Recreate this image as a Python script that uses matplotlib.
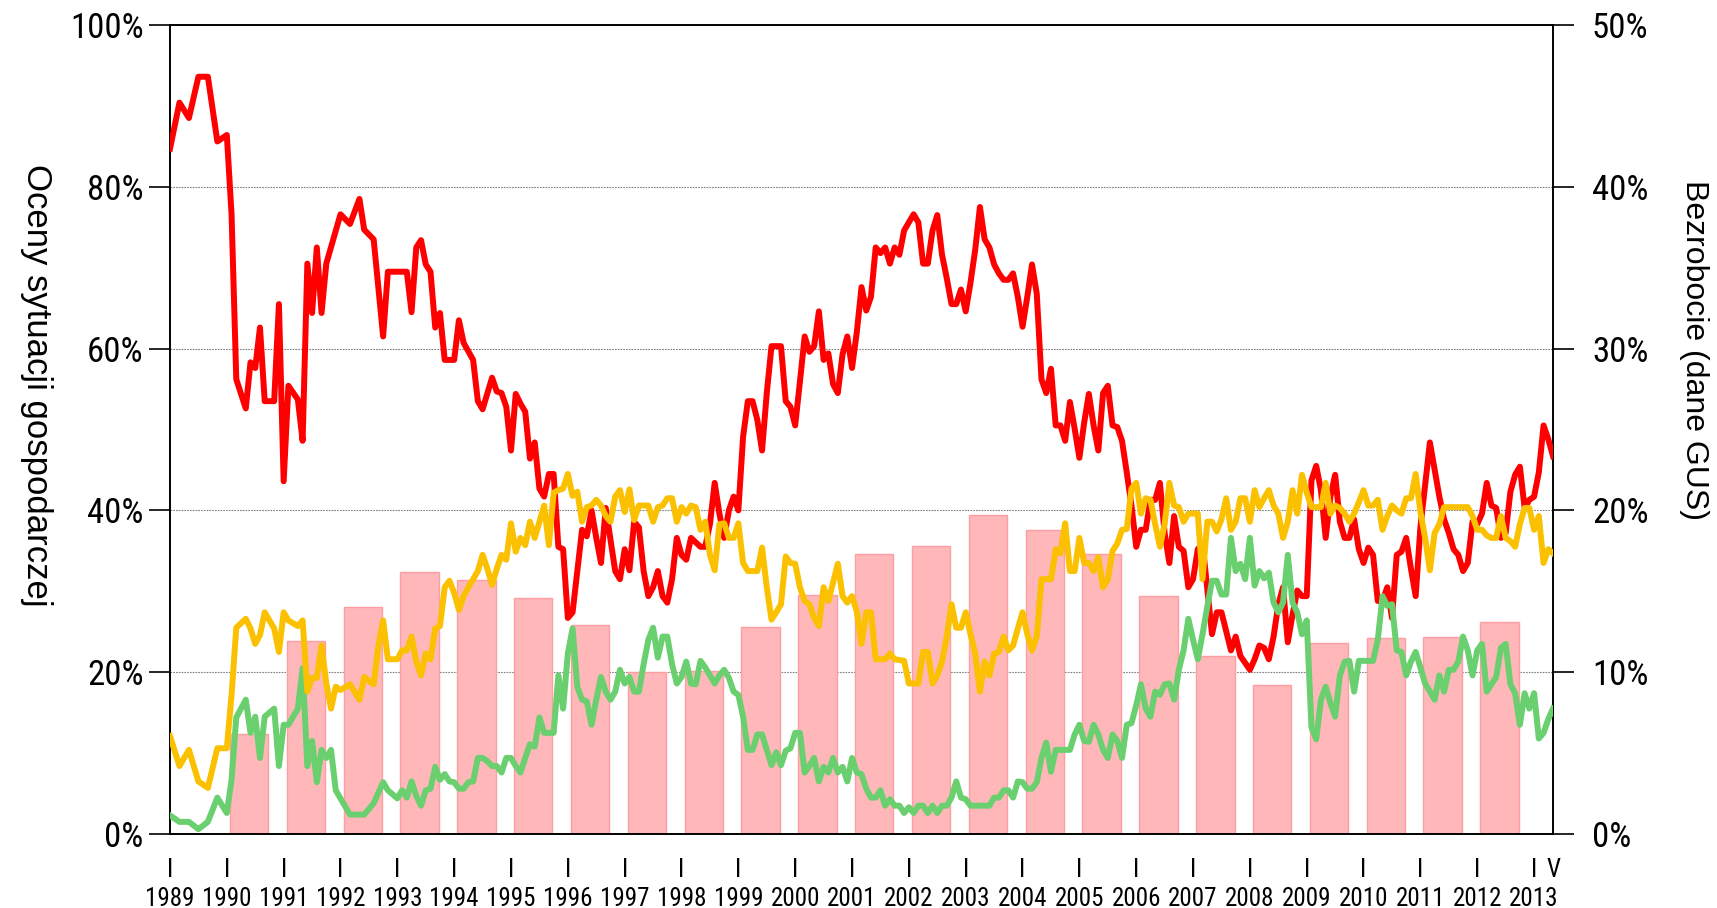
import numpy as np
import matplotlib.pyplot as plt
import matplotlib.font_manager as fm

# miesiące liczone od I 1989 (0) do V 2013 (292)
red_m = [0, 2, 4, 6, 8, 10, 12, 13, 14, 16, 17, 18, 19, 20, 22, 23, 24, 25, 27, 28,
         29, 30, 31, 32, 33, 36, 38, 40, 41, 43, 45, 46, 50, 51, 52, 53, 54, 55, 56, 57,
         58, 60, 61, 62, 64, 65, 66, 68, 69, 70, 71, 72, 73, 74, 75, 76, 77, 78, 79, 80,
         81, 82, 83, 84, 85, 87, 88, 89, 90, 91, 92, 94, 95, 96, 97, 98, 99, 100, 101, 102,
         103, 104, 105, 106, 107, 108, 109, 110, 112, 113, 114, 115, 116, 117, 118, 119, 120, 121, 122, 123,
         124, 125, 126, 127, 129, 130, 131, 132, 133, 134, 135, 136, 137, 138, 139, 140, 141, 142, 143, 144,
         145, 146, 147, 148, 149, 150, 151, 152, 153, 154, 155, 156, 157, 158, 159, 160, 161, 162, 163, 164,
         165, 166, 167, 168, 169, 170, 171, 172, 173, 174, 175, 176, 177, 178, 179, 180, 181, 182, 183, 184,
         185, 186, 187, 188, 189, 190, 191, 192, 193, 194, 195, 196, 197, 198, 199, 200, 201, 202, 203, 204,
         205, 206, 207, 208, 209, 210, 211, 212, 213, 214, 215, 216, 217, 218, 220, 221, 222, 224, 225, 226,
         228, 229, 230, 231, 232, 233, 234, 235, 236, 237, 238, 239, 240, 241, 242, 243, 244, 245, 246, 247,
         248, 249, 250, 251, 252, 253, 254, 255, 256, 257, 258, 259, 260, 261, 262, 263, 264, 266, 268, 269,
         270, 271, 272, 273, 274, 275, 276, 277, 278, 279, 280, 281, 282, 283, 284, 285, 286, 287, 288, 289,
         290, 291, 292]
red_v = [84.7, 90.4, 88.5, 93.6, 93.6, 85.6, 86.4, 76.6, 56.2, 52.6, 58.3, 57.6, 62.6, 53.5, 53.5, 65.5, 43.6, 55.4, 53.7, 48.6,
         70.5, 64.4, 72.5, 64.4, 70.5, 76.6, 75.4, 78.5, 74.7, 73.5, 61.5, 69.5, 69.5, 64.5, 72.5, 73.4, 70.4, 69.5, 62.6, 64.4,
         58.6, 58.6, 63.5, 60.7, 58.6, 53.5, 52.5, 56.4, 54.7, 54.5, 52.8, 47.4, 54.4, 53.2, 52.2, 46.4, 48.4, 42.7, 41.7, 44.5,
         44.5, 35.5, 35.2, 26.7, 27.4, 37.6, 36.8, 40.0, 36.6, 33.5, 40.3, 32.5, 31.5, 35.2, 32.6, 38.6, 37.9, 32.5, 29.4, 30.5,
         32.5, 29.4, 28.6, 31.5, 36.6, 34.5, 33.9, 36.6, 35.5, 35.5, 38.3, 43.4, 39.6, 36.6, 40.0, 41.7, 40.0, 49.1, 53.5, 53.5,
         51.2, 47.4, 54.5, 60.3, 60.3, 53.5, 52.8, 50.5, 55.9, 61.5, 59.6, 60.3, 64.6, 58.6, 59.4, 55.6, 54.5, 59.3, 61.5, 57.6,
         62.0, 67.6, 64.7, 66.4, 72.5, 71.8, 72.5, 70.5, 72.5, 71.6, 74.6, 75.6, 76.6, 75.6, 70.5, 70.5, 74.6, 76.5, 71.6, 68.7,
         65.5, 65.5, 67.3, 64.6, 68.1, 72.2, 77.5, 73.5, 72.5, 70.4, 69.3, 68.5, 68.5, 69.3, 66.4, 62.7, 66.4, 70.4, 66.8, 56.2,
         54.5, 57.5, 50.5, 50.5, 48.6, 53.4, 50.1, 46.5, 50.8, 54.4, 50.5, 47.4, 54.5, 55.4, 50.5, 50.3, 48.6, 44.7, 40.6, 35.5,
         37.6, 37.6, 41.3, 41.3, 43.4, 37.2, 33.5, 39.3, 35.5, 35.0, 30.5, 31.5, 35.2, 35.9, 24.7, 27.4, 27.4, 22.7, 24.4, 22.0,
         20.3, 21.6, 23.3, 23.0, 21.6, 24.4, 28.4, 30.5, 23.7, 27.1, 30.1, 29.4, 29.4, 43.7, 45.5, 42.5, 36.6, 41.7, 44.4, 38.6,
         36.6, 36.6, 38.9, 35.2, 33.5, 35.4, 34.5, 28.8, 28.8, 30.5, 26.7, 34.5, 34.9, 36.6, 32.8, 29.4, 37.9, 48.4, 41.7, 38.9,
         37.2, 35.2, 34.5, 32.5, 33.5, 38.6, 38.3, 39.6, 43.4, 40.6, 40.3, 36.6, 37.2, 42.3, 44.4, 45.4, 40.3, 41.3, 41.7, 44.7,
         50.5, 48.8, 46.7]

yel_m = [0, 2, 4, 6, 8, 10, 12, 13, 14, 16, 17, 18, 19, 20, 22, 23, 24, 25, 27, 28,
         29, 30, 31, 32, 33, 34, 35, 36, 38, 40, 41, 43, 44, 45, 46, 48, 49, 50, 51, 52,
         53, 54, 55, 56, 57, 58, 59, 60, 61, 62, 63, 64, 65, 66, 67, 68, 69, 70, 71, 72,
         73, 74, 75, 76, 77, 78, 79, 80, 81, 82, 83, 84, 85, 86, 87, 88, 89, 90, 91, 92,
         93, 94, 95, 96, 97, 98, 99, 101, 102, 103, 104, 105, 106, 107, 108, 109, 110, 111, 112, 113,
         114, 115, 116, 117, 118, 119, 120, 121, 122, 124, 125, 126, 127, 128, 129, 130, 131, 132, 133, 134,
         135, 136, 137, 138, 139, 140, 141, 142, 143, 144, 145, 146, 147, 148, 149, 151, 152, 153, 155, 156,
         158, 159, 160, 161, 162, 163, 164, 165, 166, 167, 168, 169, 170, 171, 172, 173, 174, 175, 176, 177,
         178, 179, 180, 181, 182, 183, 184, 186, 187, 188, 189, 190, 191, 192, 193, 194, 195, 196, 197, 198,
         199, 200, 201, 202, 203, 204, 205, 206, 207, 208, 209, 210, 211, 212, 213, 214, 215, 217, 218, 219,
         220, 221, 222, 223, 224, 225, 226, 227, 228, 229, 230, 231, 232, 233, 234, 235, 236, 237, 238, 239,
         240, 241, 242, 243, 244, 245, 246, 247, 248, 249, 250, 251, 252, 253, 254, 255, 256, 257, 258, 259,
         260, 261, 262, 263, 264, 265, 266, 267, 268, 269, 274, 275, 276, 277, 278, 279, 280, 281, 282, 283,
         284, 285, 286, 287, 288, 289, 290, 291, 292]
yel_v = [12.1, 8.4, 10.4, 6.5, 5.7, 10.6, 10.6, 17.2, 25.5, 26.6, 25.4, 23.5, 24.6, 27.4, 25.4, 22.5, 27.4, 26.4, 25.7, 26.4,
         17.6, 19.3, 19.3, 23.3, 18.6, 15.5, 18.2, 17.8, 18.5, 16.6, 19.4, 18.5, 23.3, 26.4, 21.6, 21.6, 22.7, 22.7, 24.4, 21.3,
         19.6, 22.3, 21.6, 25.4, 25.7, 30.5, 31.3, 29.8, 27.7, 29.4, 30.5, 31.5, 32.5, 34.5, 32.8, 30.8, 32.8, 34.5, 33.9, 38.4,
         34.9, 36.6, 35.7, 38.6, 36.6, 38.6, 40.6, 35.7, 42.2, 42.5, 42.7, 44.5, 41.8, 42.3, 38.6, 40.4, 40.6, 41.3, 40.6, 39.3,
         38.6, 41.7, 42.5, 39.8, 42.6, 38.8, 40.6, 40.6, 38.6, 40.4, 40.6, 41.5, 41.5, 38.6, 40.4, 39.6, 40.6, 40.4, 37.6, 38.6,
         34.5, 32.6, 38.3, 38.4, 36.6, 36.6, 38.4, 33.5, 32.5, 32.5, 35.4, 30.5, 26.5, 27.4, 28.4, 34.3, 33.5, 33.4, 30.5, 28.8,
         28.4, 26.7, 25.7, 30.5, 28.8, 31.1, 33.4, 29.4, 28.6, 29.4, 27.5, 23.5, 27.4, 27.4, 21.6, 21.6, 22.3, 21.6, 21.4, 18.6,
         18.6, 22.5, 22.5, 18.6, 19.6, 21.3, 24.4, 28.4, 25.5, 25.5, 27.4, 24.7, 22.3, 17.6, 21.3, 19.6, 22.3, 22.5, 24.4, 22.7,
         23.3, 25.4, 27.4, 24.7, 22.7, 24.4, 31.5, 31.5, 35.2, 34.7, 38.4, 32.5, 32.5, 36.6, 33.5, 33.5, 32.5, 34.2, 30.5, 31.5,
         35.0, 35.9, 37.6, 37.7, 42.7, 43.4, 39.6, 41.5, 41.3, 38.3, 35.5, 38.3, 43.4, 40.6, 40.4, 38.6, 39.6, 39.6, 31.5, 38.6,
         38.6, 37.4, 38.9, 41.5, 37.6, 38.6, 41.5, 41.5, 38.6, 42.5, 40.4, 41.5, 42.5, 40.6, 39.6, 36.6, 38.6, 42.5, 39.6, 44.4,
         42.2, 40.4, 40.4, 40.4, 43.4, 39.6, 40.6, 40.3, 39.6, 38.6, 39.6, 41.0, 42.5, 40.6, 40.6, 41.3, 37.6, 39.3, 40.6, 40.0,
         39.6, 41.5, 41.5, 44.5, 39.8, 36.6, 32.6, 37.2, 38.3, 40.4, 40.4, 39.3, 37.6, 37.6, 36.9, 36.6, 36.6, 39.3, 36.6, 36.2,
         35.5, 38.3, 40.3, 40.3, 37.6, 39.3, 33.5, 35.2, 34.7]

grn_m = [0, 2, 4, 6, 8, 10, 12, 13, 14, 16, 17, 18, 19, 20, 22, 23, 24, 25, 27, 28,
         29, 30, 31, 32, 33, 34, 35, 38, 41, 43, 45, 46, 48, 49, 50, 51, 52, 53, 54, 55,
         56, 57, 58, 59, 60, 61, 62, 63, 64, 65, 66, 67, 68, 69, 70, 71, 72, 73, 74, 75,
         76, 77, 78, 79, 81, 82, 83, 84, 85, 86, 87, 88, 89, 90, 91, 92, 93, 94, 95, 96,
         97, 98, 99, 100, 101, 102, 103, 104, 105, 106, 107, 108, 109, 110, 111, 112, 113, 114, 115, 116,
         117, 118, 119, 120, 121, 122, 123, 124, 125, 126, 127, 128, 129, 130, 131, 132, 133, 134, 135, 136,
         137, 138, 139, 140, 141, 142, 143, 144, 145, 146, 147, 148, 149, 150, 151, 152, 153, 154, 155, 156,
         157, 158, 159, 160, 161, 162, 163, 164, 165, 166, 167, 168, 169, 170, 172, 173, 174, 175, 176, 177,
         178, 179, 180, 181, 182, 183, 184, 185, 186, 187, 188, 190, 191, 192, 193, 194, 195, 196, 197, 198,
         199, 200, 201, 202, 203, 204, 205, 206, 207, 208, 209, 210, 211, 212, 213, 214, 215, 216, 217, 218,
         219, 220, 221, 222, 223, 224, 225, 226, 227, 228, 229, 230, 231, 232, 233, 234, 235, 236, 237, 238,
         239, 240, 241, 242, 243, 244, 245, 246, 247, 248, 249, 250, 251, 254, 255, 256, 257, 258, 259, 260,
         261, 262, 263, 264, 265, 266, 267, 268, 269, 270, 271, 272, 273, 274, 275, 276, 277, 278, 279, 280,
         281, 282, 283, 284, 285, 286, 287, 288, 289, 290, 291, 292]
grn_v = [2.3, 1.5, 1.5, 0.6, 1.5, 4.5, 2.6, 6.7, 14.4, 16.6, 12.5, 14.5, 9.4, 14.5, 15.5, 8.4, 13.5, 13.5, 15.5, 20.5,
         8.4, 11.5, 6.4, 10.4, 9.4, 10.4, 5.4, 2.4, 2.4, 3.8, 6.4, 5.4, 4.4, 5.4, 4.5, 6.5, 4.7, 3.5, 5.4, 5.6,
         8.3, 6.7, 7.4, 6.5, 6.4, 5.6, 5.6, 6.4, 6.5, 9.4, 9.4, 9.0, 8.4, 8.4, 7.6, 9.4, 9.4, 8.4, 7.6, 9.4,
         11.1, 10.8, 14.4, 12.5, 12.5, 19.6, 15.5, 22.3, 25.4, 18.2, 16.6, 16.4, 13.5, 16.6, 19.4, 17.6, 16.6, 17.6, 20.3, 18.6,
         19.4, 17.6, 17.6, 21.0, 24.0, 25.5, 21.8, 24.4, 24.4, 21.0, 18.6, 19.4, 21.3, 18.6, 18.5, 21.4, 20.6, 19.6, 18.6, 19.6,
         20.3, 19.3, 17.6, 17.2, 14.5, 10.4, 10.4, 12.3, 12.3, 10.4, 8.5, 10.1, 8.5, 10.3, 10.6, 12.5, 12.5, 7.6, 8.4, 9.4,
         6.5, 8.3, 7.6, 9.4, 7.6, 8.3, 6.5, 9.4, 7.6, 7.4, 5.6, 4.5, 4.5, 5.4, 3.5, 4.3, 3.5, 3.5, 2.6, 3.3,
         2.6, 3.5, 3.5, 2.6, 3.5, 2.6, 3.5, 3.5, 4.5, 6.5, 4.5, 4.3, 3.5, 3.5, 3.5, 3.5, 4.5, 4.5, 5.4, 5.4,
         4.5, 6.5, 6.4, 5.6, 5.6, 6.4, 9.4, 11.3, 7.7, 10.4, 10.4, 10.4, 12.3, 13.5, 11.5, 11.4, 13.5, 12.3, 10.4, 9.4,
         12.3, 11.5, 9.4, 13.5, 13.7, 15.9, 18.5, 15.5, 14.5, 17.6, 17.2, 18.5, 18.6, 16.6, 20.3, 22.7, 26.6, 24.0, 21.6, 24.7,
         28.1, 31.3, 31.3, 29.6, 29.6, 36.6, 32.5, 33.4, 31.5, 36.6, 30.7, 32.5, 31.6, 32.3, 28.6, 27.4, 28.6, 34.5, 28.6, 27.4,
         24.7, 26.4, 13.2, 11.7, 16.6, 18.2, 16.2, 14.5, 19.6, 21.3, 21.4, 17.6, 21.4, 21.4, 24.0, 29.4, 28.2, 28.4, 22.7, 22.5,
         19.6, 21.3, 22.5, 20.6, 18.6, 17.6, 16.6, 19.6, 17.6, 20.3, 20.3, 21.3, 24.4, 22.7, 19.6, 22.7, 23.5, 17.6, 18.5, 19.4,
         23.0, 23.5, 18.5, 17.4, 13.5, 17.4, 15.5, 17.4, 11.8, 12.5, 14.2, 15.5]

# stopa bezrobocia (GUS), koniec roku
bar_years = list(range(1990, 2013))
bar_vals = [6.2, 11.9, 14.0, 16.2, 15.7, 14.6, 12.9, 10.0, 10.1, 12.8, 14.8, 17.3,
            17.8, 19.7, 18.8, 17.3, 14.7, 11.0, 9.2, 11.8, 12.1, 12.2, 13.1]

label_years = list(range(1989, 2014))

# szukamy wąskiego kroju, jak nie ma - zwykły Liberation Sans trochę mniejszy
names = {f.name for f in fm.fontManager.ttflist}
narrow_name = None
for n in ['Liberation Sans Narrow', 'Arial Narrow', 'Roboto Condensed', 'Open Sans Condensed',
          'Noto Sans Condensed', 'DejaVu Sans Condensed']:
    if n in names:
        narrow_name = n
        break
if narrow_name:
    narrow = [narrow_name, 'DejaVu Sans']
    tick_fs, year_fs = 25, 18
else:
    narrow = ['Liberation Sans', 'DejaVu Sans']
    tick_fs, year_fs = 21, 15
plain = ['Liberation Sans', 'DejaVu Sans']

fig = plt.figure(figsize=(17.17, 9.08), dpi=100)
ax = fig.add_axes([0.099, 0.0815, 0.8055, 0.891])
ax2 = ax.twinx()
ax.set_zorder(2)
ax2.set_zorder(1)
ax.patch.set_visible(False)

# słupki bezrobocia na prawej osi
bar_x = [(y - 1989) * 12 + 4.7 for y in bar_years]
ax2.bar(bar_x, bar_vals, width=8.1, color='#ffb7b9', edgecolor='#ff9ea2', linewidth=1.0, zorder=2)
ax2.set_ylim(0, 50)
ax2.set_yticks([0, 10, 20, 30, 40, 50])
ax2.set_yticklabels(['%d%%' % v for v in [0, 10, 20, 30, 40, 50]], family=narrow, fontsize=tick_fs)
ax2.grid(axis='y', color='#808080', linestyle=(0, (1.5, 1)), linewidth=0.8, zorder=0)
ax2.set_axisbelow(True)
ax2.tick_params(axis='y', direction='out', length=15, width=1.2, pad=13)

# linie
ax.plot(red_m, red_v, color='#ff0000', lw=4.3, solid_joinstyle='round', zorder=3)
ax.plot(grn_m, grn_v, color='#6acf6f', lw=4.3, solid_joinstyle='round', zorder=4)
ax.plot(yel_m, yel_v, color='#fbc100', lw=4.3, solid_joinstyle='round', zorder=5)

ax.set_xlim(0, 292)
ax.set_ylim(0, 100)
ax.set_yticks([0, 20, 40, 60, 80, 100])
ax.set_yticklabels(['%d%%' % v for v in [0, 20, 40, 60, 80, 100]], family=narrow, fontsize=tick_fs)
ax.tick_params(axis='y', direction='out', length=15, width=1.2, pad=4)
ax.set_xticks([])

# opisy osi X: "I" nad rokiem, "V" na końcu
for y in label_years:
    xm = (y - 1989) * 12
    ax.annotate('I', xy=(xm, 0), xycoords=('data', 'axes fraction'), xytext=(0, -31),
                textcoords='offset points', ha='center', va='baseline', family=narrow, fontsize=year_fs)
    ax.annotate(str(y), xy=(xm, 0), xycoords=('data', 'axes fraction'), xytext=(0, -51.5),
                textcoords='offset points', ha='center', va='baseline', family=narrow, fontsize=year_fs)
ax.annotate('V', xy=(292, 0), xycoords=('data', 'axes fraction'), xytext=(0, -31),
            textcoords='offset points', ha='center', va='baseline', family=narrow, fontsize=year_fs)

for a in (ax, ax2):
    for s in a.spines.values():
        s.set_linewidth(1.2)
        s.set_color('black')

fig.text(0.021, 0.576, 'Oceny sytuacji gospodarczej', rotation=270, ha='center', va='center',
         family=plain, fontsize=25)
fig.text(0.9866, 0.614, 'Bezrobocie (dane GUS)', rotation=270, ha='center', va='center',
         family=plain, fontsize=23)

fig.savefig('out.png', dpi=100, facecolor='white')
